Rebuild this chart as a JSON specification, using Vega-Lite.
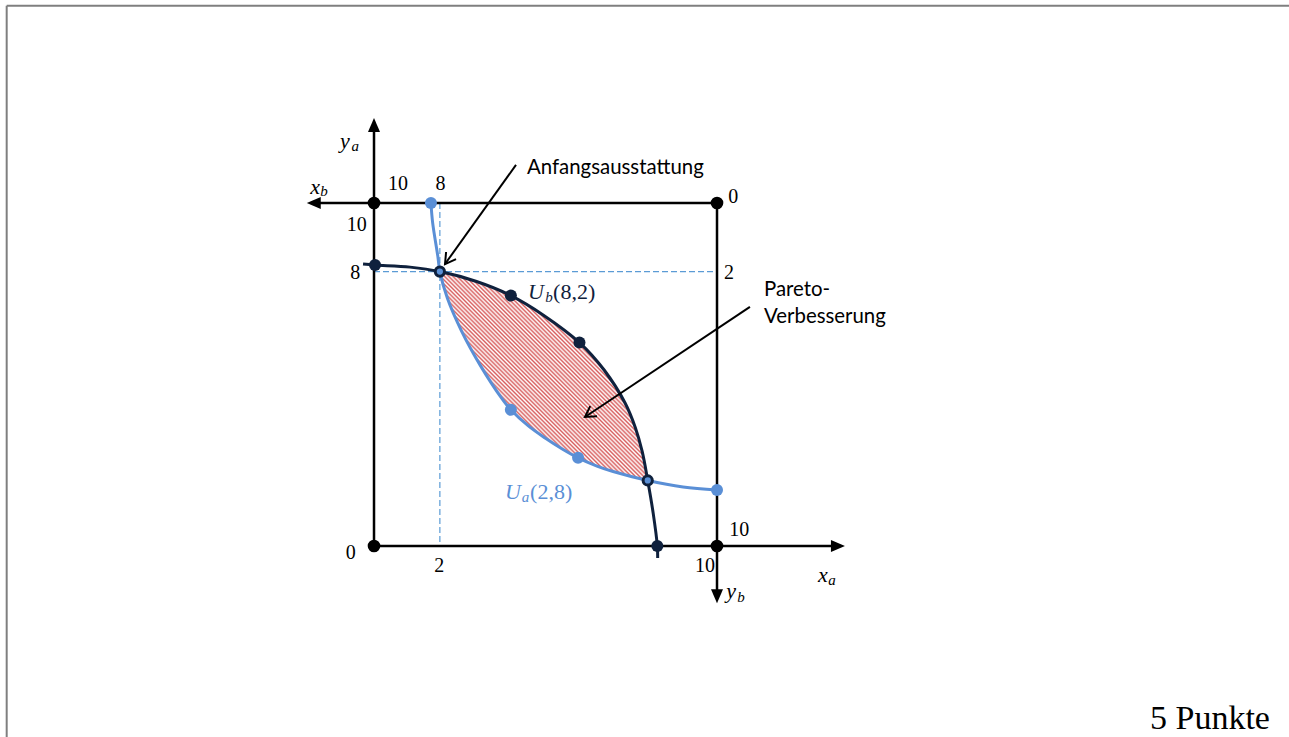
{
  "$schema": "https://vega.github.io/schema/vega-lite/v6.json",
  "width": 1289,
  "height": 737,
  "autosize": {"type": "none"},
  "padding": 0,
  "background": "white",
  "config": {"view": {"stroke": null}},
  "datasets": {
    "frame": [
      {"x": -10.709, "y": 15.752, "x2": 26.676, "y2": 15.752},
      {"x": -10.709, "y": 15.752, "x2": -10.709, "y2": -5.569}
    ],
    "dash": [
      {"x": 1.92, "y": 10, "x2": 1.92, "y2": 0},
      {"x": 0, "y": 8, "x2": 10, "y2": 8}
    ],
    "lens": [
      {"x": 1.92, "y": 8.0, "ylow": 8.0},
      {"x": 2.2, "y": 7.93, "ylow": 7.08},
      {"x": 2.6, "y": 7.82, "ylow": 6.18},
      {"x": 3.0, "y": 7.71, "ylow": 5.44},
      {"x": 3.5, "y": 7.51, "ylow": 4.65},
      {"x": 4.0, "y": 7.30, "ylow": 3.97},
      {"x": 4.5, "y": 7.02, "ylow": 3.50},
      {"x": 5.0, "y": 6.69, "ylow": 3.14},
      {"x": 5.5, "y": 6.32, "ylow": 2.82},
      {"x": 6.0, "y": 5.92, "ylow": 2.55},
      {"x": 6.5, "y": 5.38, "ylow": 2.33},
      {"x": 7.0, "y": 4.68, "ylow": 2.16},
      {"x": 7.3, "y": 4.21, "ylow": 2.09},
      {"x": 7.6, "y": 3.50, "ylow": 2.01},
      {"x": 7.8, "y": 2.82, "ylow": 1.96},
      {"x": 7.98, "y": 1.91, "ylow": 1.91}
    ],
    "axes": [
      {"x": 0, "y": 0, "x2": 13.4, "y2": 0},
      {"x": 0, "y": 0, "x2": 0, "y2": 12.2},
      {"x": 10, "y": 10, "x2": -1.7, "y2": 10},
      {"x": 10, "y": 10, "x2": 10, "y2": -1.4}
    ],
    "tips": [
      {"x": 13.73, "y": 0, "dir": "right"},
      {"x": 0, "y": 12.48, "dir": "up"},
      {"x": -1.96, "y": 10, "dir": "left"},
      {"x": 10, "y": -1.67, "dir": "down"}
    ],
    "curves": [
      {"series": "a", "x": 1.66, "y": 10.0},
      {"series": "a", "x": 1.71, "y": 9.42},
      {"series": "a", "x": 1.86, "y": 8.45},
      {"series": "a", "x": 1.92, "y": 8.0},
      {"series": "a", "x": 2.14, "y": 7.22},
      {"series": "a", "x": 2.56, "y": 6.25},
      {"series": "a", "x": 3.09, "y": 5.28},
      {"series": "a", "x": 3.72, "y": 4.31},
      {"series": "a", "x": 3.99, "y": 3.97},
      {"series": "a", "x": 4.5, "y": 3.50},
      {"series": "a", "x": 5.0, "y": 3.14},
      {"series": "a", "x": 5.5, "y": 2.82},
      {"series": "a", "x": 5.95, "y": 2.57},
      {"series": "a", "x": 6.5, "y": 2.33},
      {"series": "a", "x": 6.97, "y": 2.17},
      {"series": "a", "x": 7.98, "y": 1.91},
      {"series": "a", "x": 9.01, "y": 1.72},
      {"series": "a", "x": 10.0, "y": 1.63},
      {"series": "b", "x": -0.32, "y": 8.22},
      {"series": "b", "x": 0.03, "y": 8.19},
      {"series": "b", "x": 1.05, "y": 8.13},
      {"series": "b", "x": 1.92, "y": 8.0},
      {"series": "b", "x": 2.99, "y": 7.71},
      {"series": "b", "x": 3.99, "y": 7.30},
      {"series": "b", "x": 4.94, "y": 6.73},
      {"series": "b", "x": 5.99, "y": 5.93},
      {"series": "b", "x": 6.71, "y": 5.13},
      {"series": "b", "x": 7.32, "y": 4.17},
      {"series": "b", "x": 7.62, "y": 3.45},
      {"series": "b", "x": 7.82, "y": 2.75},
      {"series": "b", "x": 7.98, "y": 1.91},
      {"series": "b", "x": 8.14, "y": 0.95},
      {"series": "b", "x": 8.26, "y": 0.0},
      {"series": "b", "x": 8.27, "y": -0.35}
    ],
    "arrows": [
      {"x": 4.14, "y": 11.11, "x2": 2.07, "y2": 8.22},
      {"x": 10.96, "y": 6.97, "x2": 6.15, "y2": 3.76}
    ],
    "corners": [
      {"x": 0, "y": 0},
      {"x": 0, "y": 10},
      {"x": 10, "y": 10},
      {"x": 10, "y": 0}
    ],
    "dots": [
      {"series": "a", "x": 1.66, "y": 10.0},
      {"series": "a", "x": 3.99, "y": 3.97},
      {"series": "a", "x": 5.95, "y": 2.57},
      {"series": "a", "x": 10.0, "y": 1.63},
      {"series": "b", "x": 0.03, "y": 8.19},
      {"series": "b", "x": 3.99, "y": 7.30},
      {"series": "b", "x": 5.99, "y": 5.93},
      {"series": "b", "x": 8.26, "y": 0.0}
    ],
    "rings": [
      {"x": 1.92, "y": 8.0},
      {"x": 7.98, "y": 1.91}
    ],
    "nums": [
      {"t": "10", "x": 0.70, "y": 10.55},
      {"t": "8", "x": 1.94, "y": 10.55},
      {"t": "10", "x": -0.50, "y": 9.36},
      {"t": "8", "x": -0.55, "y": 7.96},
      {"t": "0", "x": 10.47, "y": 10.18},
      {"t": "2", "x": 10.35, "y": 7.96},
      {"t": "0", "x": -0.68, "y": -0.20},
      {"t": "2", "x": 1.90, "y": -0.58},
      {"t": "10", "x": 10.65, "y": 0.47},
      {"t": "10", "x": 9.65, "y": -0.58}
    ],
    "vars": [
      {"t": "y", "x": -0.85, "y": 11.81},
      {"t": "x", "x": -1.72, "y": 10.47},
      {"t": "x", "x": 13.09, "y": -0.85},
      {"t": "y", "x": 10.41, "y": -1.31}
    ],
    "subs": [
      {"t": "a", "x": -0.55, "y": 11.66},
      {"t": "b", "x": -1.46, "y": 10.35},
      {"t": "a", "x": 13.35, "y": -0.99},
      {"t": "b", "x": 10.70, "y": -1.49}
    ],
    "notes": [
      {"t": "Anfangsausstattung", "x": 4.46, "y": 11.02},
      {"t": "Pareto-", "x": 11.37, "y": 7.46},
      {"t": "Verbesserung", "x": 11.37, "y": 6.68}
    ],
    "uMain": [
      {"series": "b", "t": "U", "x": 4.49, "y": 7.41},
      {"series": "a", "t": "U", "x": 3.82, "y": 1.58}
    ],
    "uSub": [
      {"series": "b", "t": "b", "x": 4.99, "y": 7.26},
      {"series": "a", "t": "a", "x": 4.31, "y": 1.43}
    ],
    "uArgs": [
      {"series": "b", "t": "(8,2)", "x": 5.22, "y": 7.41},
      {"series": "a", "t": "(2,8)", "x": 4.55, "y": 1.58}
    ],
    "points": [
      {"t": "5 Punkte", "x": 26.12, "y": -5.539}
    ]
  },
  "encoding": {
    "x": {"field": "x", "type": "quantitative", "scale": {"domain": [-10.904, 26.676], "nice": false, "zero": false}, "axis": null},
    "y": {"field": "y", "type": "quantitative", "scale": {"domain": [-5.569, 15.918], "nice": false, "zero": false}, "axis": null}
  },
  "layer": [
    {
      "data": {"name": "frame"},
      "mark": {"type": "rule", "stroke": "#7f7f7f", "strokeWidth": 2},
      "encoding": {"x2": {"field": "x2"}, "y2": {"field": "y2"}}
    },
    {
      "data": {"name": "dash"},
      "mark": {"type": "rule", "stroke": "#5b9bd5", "strokeWidth": 1.2, "strokeDash": [6, 3]},
      "encoding": {"x2": {"field": "x2"}, "y2": {"field": "y2"}}
    },
    {
      "data": {"name": "lens"},
      "mark": {
        "type": "area",
        "interpolate": "monotone",
        "fill": {
          "gradient": "linear", "x1": 0, "y1": 1, "x2": 1, "y2": 0,
          "stops": [
            {"offset":0,"color":"#d85f5f"},{"offset":0.005,"color":"#ffffff"},{"offset":0.01,"color":"#d85f5f"},{"offset":0.015,"color":"#ffffff"},{"offset":0.02,"color":"#d85f5f"},{"offset":0.025,"color":"#ffffff"},{"offset":0.03,"color":"#d85f5f"},{"offset":0.035,"color":"#ffffff"},{"offset":0.04,"color":"#d85f5f"},{"offset":0.045,"color":"#ffffff"},
            {"offset":0.05,"color":"#d85f5f"},{"offset":0.055,"color":"#ffffff"},{"offset":0.06,"color":"#d85f5f"},{"offset":0.065,"color":"#ffffff"},{"offset":0.07,"color":"#d85f5f"},{"offset":0.075,"color":"#ffffff"},{"offset":0.08,"color":"#d85f5f"},{"offset":0.085,"color":"#ffffff"},{"offset":0.09,"color":"#d85f5f"},{"offset":0.095,"color":"#ffffff"},
            {"offset":0.1,"color":"#d85f5f"},{"offset":0.105,"color":"#ffffff"},{"offset":0.11,"color":"#d85f5f"},{"offset":0.115,"color":"#ffffff"},{"offset":0.12,"color":"#d85f5f"},{"offset":0.125,"color":"#ffffff"},{"offset":0.13,"color":"#d85f5f"},{"offset":0.135,"color":"#ffffff"},{"offset":0.14,"color":"#d85f5f"},{"offset":0.145,"color":"#ffffff"},
            {"offset":0.15,"color":"#d85f5f"},{"offset":0.155,"color":"#ffffff"},{"offset":0.16,"color":"#d85f5f"},{"offset":0.165,"color":"#ffffff"},{"offset":0.17,"color":"#d85f5f"},{"offset":0.175,"color":"#ffffff"},{"offset":0.18,"color":"#d85f5f"},{"offset":0.185,"color":"#ffffff"},{"offset":0.19,"color":"#d85f5f"},{"offset":0.195,"color":"#ffffff"},
            {"offset":0.2,"color":"#d85f5f"},{"offset":0.205,"color":"#ffffff"},{"offset":0.21,"color":"#d85f5f"},{"offset":0.215,"color":"#ffffff"},{"offset":0.22,"color":"#d85f5f"},{"offset":0.225,"color":"#ffffff"},{"offset":0.23,"color":"#d85f5f"},{"offset":0.235,"color":"#ffffff"},{"offset":0.24,"color":"#d85f5f"},{"offset":0.245,"color":"#ffffff"},
            {"offset":0.25,"color":"#d85f5f"},{"offset":0.255,"color":"#ffffff"},{"offset":0.26,"color":"#d85f5f"},{"offset":0.265,"color":"#ffffff"},{"offset":0.27,"color":"#d85f5f"},{"offset":0.275,"color":"#ffffff"},{"offset":0.28,"color":"#d85f5f"},{"offset":0.285,"color":"#ffffff"},{"offset":0.29,"color":"#d85f5f"},{"offset":0.295,"color":"#ffffff"},
            {"offset":0.3,"color":"#d85f5f"},{"offset":0.305,"color":"#ffffff"},{"offset":0.31,"color":"#d85f5f"},{"offset":0.315,"color":"#ffffff"},{"offset":0.32,"color":"#d85f5f"},{"offset":0.325,"color":"#ffffff"},{"offset":0.33,"color":"#d85f5f"},{"offset":0.335,"color":"#ffffff"},{"offset":0.34,"color":"#d85f5f"},{"offset":0.345,"color":"#ffffff"},
            {"offset":0.35,"color":"#d85f5f"},{"offset":0.355,"color":"#ffffff"},{"offset":0.36,"color":"#d85f5f"},{"offset":0.365,"color":"#ffffff"},{"offset":0.37,"color":"#d85f5f"},{"offset":0.375,"color":"#ffffff"},{"offset":0.38,"color":"#d85f5f"},{"offset":0.385,"color":"#ffffff"},{"offset":0.39,"color":"#d85f5f"},{"offset":0.395,"color":"#ffffff"},
            {"offset":0.4,"color":"#d85f5f"},{"offset":0.405,"color":"#ffffff"},{"offset":0.41,"color":"#d85f5f"},{"offset":0.415,"color":"#ffffff"},{"offset":0.42,"color":"#d85f5f"},{"offset":0.425,"color":"#ffffff"},{"offset":0.43,"color":"#d85f5f"},{"offset":0.435,"color":"#ffffff"},{"offset":0.44,"color":"#d85f5f"},{"offset":0.445,"color":"#ffffff"},
            {"offset":0.45,"color":"#d85f5f"},{"offset":0.455,"color":"#ffffff"},{"offset":0.46,"color":"#d85f5f"},{"offset":0.465,"color":"#ffffff"},{"offset":0.47,"color":"#d85f5f"},{"offset":0.475,"color":"#ffffff"},{"offset":0.48,"color":"#d85f5f"},{"offset":0.485,"color":"#ffffff"},{"offset":0.49,"color":"#d85f5f"},{"offset":0.495,"color":"#ffffff"},
            {"offset":0.5,"color":"#d85f5f"},{"offset":0.505,"color":"#ffffff"},{"offset":0.51,"color":"#d85f5f"},{"offset":0.515,"color":"#ffffff"},{"offset":0.52,"color":"#d85f5f"},{"offset":0.525,"color":"#ffffff"},{"offset":0.53,"color":"#d85f5f"},{"offset":0.535,"color":"#ffffff"},{"offset":0.54,"color":"#d85f5f"},{"offset":0.545,"color":"#ffffff"},
            {"offset":0.55,"color":"#d85f5f"},{"offset":0.555,"color":"#ffffff"},{"offset":0.56,"color":"#d85f5f"},{"offset":0.565,"color":"#ffffff"},{"offset":0.57,"color":"#d85f5f"},{"offset":0.575,"color":"#ffffff"},{"offset":0.58,"color":"#d85f5f"},{"offset":0.585,"color":"#ffffff"},{"offset":0.59,"color":"#d85f5f"},{"offset":0.595,"color":"#ffffff"},
            {"offset":0.6,"color":"#d85f5f"},{"offset":0.605,"color":"#ffffff"},{"offset":0.61,"color":"#d85f5f"},{"offset":0.615,"color":"#ffffff"},{"offset":0.62,"color":"#d85f5f"},{"offset":0.625,"color":"#ffffff"},{"offset":0.63,"color":"#d85f5f"},{"offset":0.635,"color":"#ffffff"},{"offset":0.64,"color":"#d85f5f"},{"offset":0.645,"color":"#ffffff"},
            {"offset":0.65,"color":"#d85f5f"},{"offset":0.655,"color":"#ffffff"},{"offset":0.66,"color":"#d85f5f"},{"offset":0.665,"color":"#ffffff"},{"offset":0.67,"color":"#d85f5f"},{"offset":0.675,"color":"#ffffff"},{"offset":0.68,"color":"#d85f5f"},{"offset":0.685,"color":"#ffffff"},{"offset":0.69,"color":"#d85f5f"},{"offset":0.695,"color":"#ffffff"},
            {"offset":0.7,"color":"#d85f5f"},{"offset":0.705,"color":"#ffffff"},{"offset":0.71,"color":"#d85f5f"},{"offset":0.715,"color":"#ffffff"},{"offset":0.72,"color":"#d85f5f"},{"offset":0.725,"color":"#ffffff"},{"offset":0.73,"color":"#d85f5f"},{"offset":0.735,"color":"#ffffff"},{"offset":0.74,"color":"#d85f5f"},{"offset":0.745,"color":"#ffffff"},
            {"offset":0.75,"color":"#d85f5f"},{"offset":0.755,"color":"#ffffff"},{"offset":0.76,"color":"#d85f5f"},{"offset":0.765,"color":"#ffffff"},{"offset":0.77,"color":"#d85f5f"},{"offset":0.775,"color":"#ffffff"},{"offset":0.78,"color":"#d85f5f"},{"offset":0.785,"color":"#ffffff"},{"offset":0.79,"color":"#d85f5f"},{"offset":0.795,"color":"#ffffff"},
            {"offset":0.8,"color":"#d85f5f"},{"offset":0.805,"color":"#ffffff"},{"offset":0.81,"color":"#d85f5f"},{"offset":0.815,"color":"#ffffff"},{"offset":0.82,"color":"#d85f5f"},{"offset":0.825,"color":"#ffffff"},{"offset":0.83,"color":"#d85f5f"},{"offset":0.835,"color":"#ffffff"},{"offset":0.84,"color":"#d85f5f"},{"offset":0.845,"color":"#ffffff"},
            {"offset":0.85,"color":"#d85f5f"},{"offset":0.855,"color":"#ffffff"},{"offset":0.86,"color":"#d85f5f"},{"offset":0.865,"color":"#ffffff"},{"offset":0.87,"color":"#d85f5f"},{"offset":0.875,"color":"#ffffff"},{"offset":0.88,"color":"#d85f5f"},{"offset":0.885,"color":"#ffffff"},{"offset":0.89,"color":"#d85f5f"},{"offset":0.895,"color":"#ffffff"},
            {"offset":0.9,"color":"#d85f5f"},{"offset":0.905,"color":"#ffffff"},{"offset":0.91,"color":"#d85f5f"},{"offset":0.915,"color":"#ffffff"},{"offset":0.92,"color":"#d85f5f"},{"offset":0.925,"color":"#ffffff"},{"offset":0.93,"color":"#d85f5f"},{"offset":0.935,"color":"#ffffff"},{"offset":0.94,"color":"#d85f5f"},{"offset":0.945,"color":"#ffffff"},
            {"offset":0.95,"color":"#d85f5f"},{"offset":0.955,"color":"#ffffff"},{"offset":0.96,"color":"#d85f5f"},{"offset":0.965,"color":"#ffffff"},{"offset":0.97,"color":"#d85f5f"},{"offset":0.975,"color":"#ffffff"},{"offset":0.98,"color":"#d85f5f"},{"offset":0.985,"color":"#ffffff"},{"offset":0.99,"color":"#d85f5f"},{"offset":0.995,"color":"#ffffff"},
            {"offset":1,"color":"#d85f5f"}
          ]
        }
      },
      "encoding": {"y2": {"field": "ylow"}}
    },
    {
      "data": {"name": "axes"},
      "mark": {"type": "rule", "stroke": "#000000", "strokeWidth": 2.5},
      "encoding": {"x2": {"field": "x2"}, "y2": {"field": "y2"}}
    },
    {
      "data": {"name": "curves"},
      "mark": {"type": "line", "interpolate": "catmull-rom", "strokeWidth": 3},
      "encoding": {
        "color": {"field": "series", "type": "nominal", "scale": {"domain": ["a", "b"], "range": ["#5a8fd6", "#0f213d"]}, "legend": null}
      }
    },
    {
      "data": {"name": "arrows"},
      "mark": {"type": "rule", "stroke": "#000000", "strokeWidth": 2},
      "encoding": {"x2": {"field": "x2"}, "y2": {"field": "y2"}}
    },
    {
      "data": {"name": "arrows"},
      "transform": [{"filter": "datum.x < 5"}],
      "mark": {"type": "point", "shape": "M-1.7,-1L0,0L-1.7,1", "size": 150, "angle": 125.6, "filled": false, "stroke": "#000000", "strokeWidth": 2, "opacity": 1, "strokeJoin": "miter"},
      "encoding": {"x": {"field": "x2", "type": "quantitative"}, "y": {"field": "y2", "type": "quantitative"}}
    },
    {
      "data": {"name": "arrows"},
      "transform": [{"filter": "datum.x > 5"}],
      "mark": {"type": "point", "shape": "M-1.7,-1L0,0L-1.7,1", "size": 150, "angle": 146.4, "filled": false, "stroke": "#000000", "strokeWidth": 2, "opacity": 1, "strokeJoin": "miter"},
      "encoding": {"x": {"field": "x2", "type": "quantitative"}, "y": {"field": "y2", "type": "quantitative"}}
    },
    {
      "data": {"name": "tips"},
      "mark": {"type": "point", "filled": true, "color": "#000000", "size": 196, "opacity": 1},
      "encoding": {
        "shape": {"field": "dir", "type": "nominal", "scale": {"domain": ["right", "up", "left", "down"], "range": ["M0,0L-2,-0.86L-2,0.86Z", "M0,0L-0.86,2L0.86,2Z", "M0,0L2,-0.86L2,0.86Z", "M0,0L-0.86,-2L0.86,-2Z"]}, "legend": null}
      }
    },
    {
      "data": {"name": "corners"},
      "mark": {"type": "circle", "color": "#000000", "size": 160, "opacity": 1}
    },
    {
      "data": {"name": "dots"},
      "mark": {"type": "circle", "size": 145, "opacity": 1},
      "encoding": {
        "color": {"field": "series", "type": "nominal", "scale": {"domain": ["a", "b"], "range": ["#5a8fd6", "#0f213d"]}, "legend": null}
      }
    },
    {
      "data": {"name": "rings"},
      "mark": {"type": "point", "shape": "circle", "filled": true, "fill": "#5a8fd6", "stroke": "#0f213d", "strokeWidth": 3, "size": 85, "opacity": 1}
    },
    {
      "data": {"name": "nums"},
      "mark": {"type": "text", "font": "Liberation Serif", "fontSize": 20, "align": "center", "baseline": "middle", "color": "#000000"},
      "encoding": {"text": {"field": "t"}}
    },
    {
      "data": {"name": "vars"},
      "mark": {"type": "text", "font": "Liberation Serif", "fontStyle": "italic", "fontSize": 22, "align": "center", "baseline": "middle", "color": "#000000"},
      "encoding": {"text": {"field": "t"}}
    },
    {
      "data": {"name": "subs"},
      "mark": {"type": "text", "font": "Liberation Serif", "fontStyle": "italic", "fontSize": 15, "align": "center", "baseline": "middle", "color": "#000000"},
      "encoding": {"text": {"field": "t"}}
    },
    {
      "data": {"name": "notes"},
      "mark": {"type": "text", "font": "Lato", "fontSize": 20.4, "align": "left", "baseline": "middle", "color": "#000000"},
      "encoding": {"text": {"field": "t"}}
    },
    {
      "data": {"name": "uMain"},
      "mark": {"type": "text", "font": "Liberation Serif", "fontStyle": "italic", "fontSize": 22, "align": "left", "baseline": "middle"},
      "encoding": {
        "text": {"field": "t"},
        "color": {"field": "series", "type": "nominal", "scale": {"domain": ["a", "b"], "range": ["#5a8fd6", "#1f3864"]}, "legend": null}
      }
    },
    {
      "data": {"name": "uSub"},
      "mark": {"type": "text", "font": "Liberation Serif", "fontStyle": "italic", "fontSize": 15, "align": "left", "baseline": "middle"},
      "encoding": {
        "text": {"field": "t"},
        "color": {"field": "series", "type": "nominal", "scale": {"domain": ["a", "b"], "range": ["#5a8fd6", "#1f3864"]}, "legend": null}
      }
    },
    {
      "data": {"name": "uArgs"},
      "mark": {"type": "text", "font": "Liberation Serif", "fontSize": 22, "align": "left", "baseline": "middle"},
      "encoding": {
        "text": {"field": "t"},
        "color": {"field": "series", "type": "nominal", "scale": {"domain": ["a", "b"], "range": ["#5a8fd6", "#1f3864"]}, "legend": null}
      }
    },
    {
      "data": {"name": "points"},
      "mark": {"type": "text", "font": "Liberation Serif", "fontSize": 34, "align": "right", "baseline": "bottom", "color": "#000000"},
      "encoding": {"text": {"field": "t"}}
    }
  ]
}
